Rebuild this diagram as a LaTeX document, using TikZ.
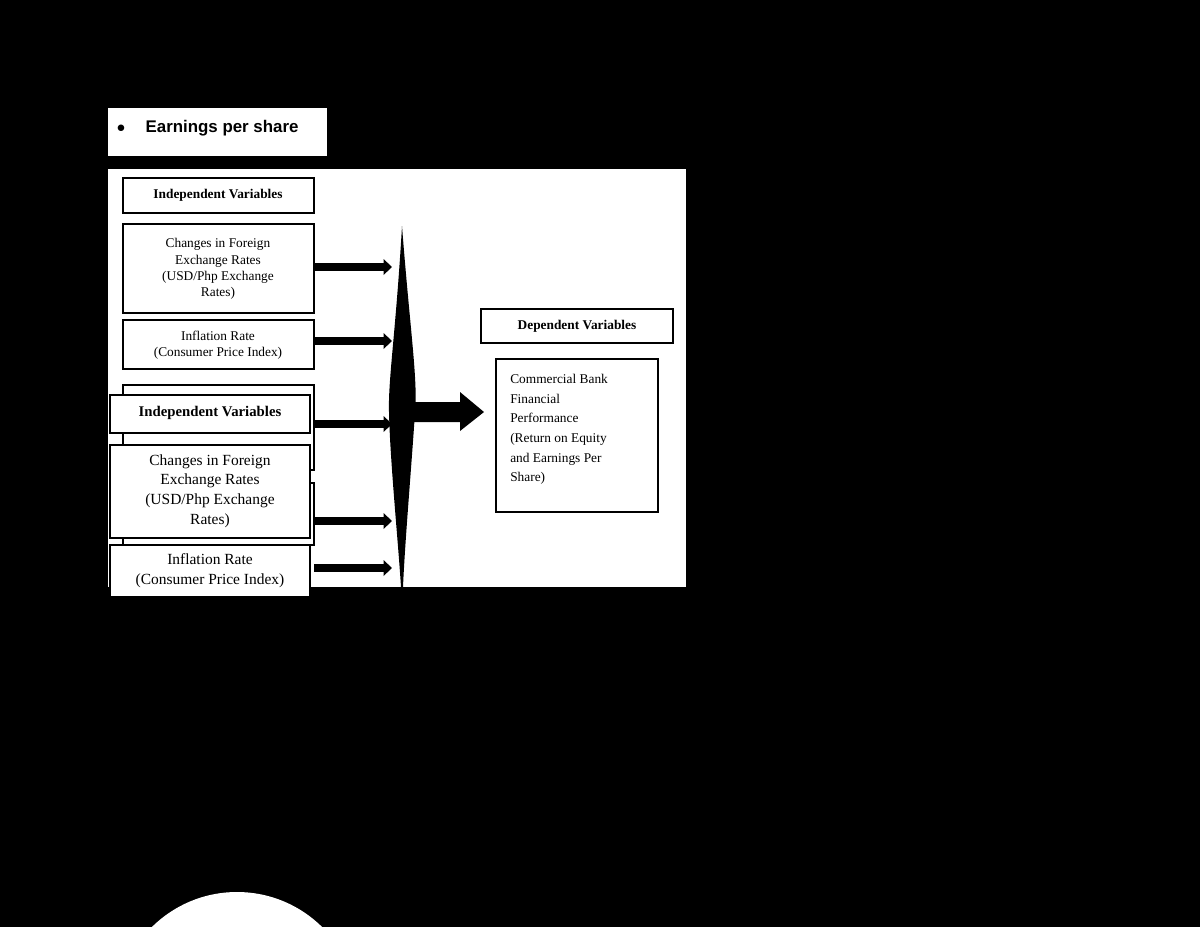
\documentclass[tikz,border=0pt]{standalone}
\usepackage{fontspec}
\usetikzlibrary{arrows.meta}
\setmainfont{Liberation Serif}
\newfontfamily\arialf{Liberation Sans}
\begin{document}
\begin{tikzpicture}[x=0.025cm,y=-0.025cm,
  bx/.style={draw=black,line width=1pt,fill=white,inner sep=0pt},
  ov/.style={draw=black,line width=1.6pt,fill=white,inner sep=0pt},
  arr/.style={line width=5pt,-{Triangle[length=6pt,width=11pt]}},
  txt/.style={font=\fontsize{9.5}{11.5}\selectfont,align=center},
  otxt/.style={font=\fontsize{11}{14}\selectfont,align=center}]
\fill[black] (0,0) rectangle (1200,927);
\useasboundingbox (0,0) rectangle (1200,927);
\fill[white] (108,108) rectangle (327,156);
\node[anchor=west,font=\arialf\bfseries\fontsize{12}{14}\selectfont] (eps) at (112,128) {$\bullet$\hspace{1.2em}Earnings per share};
\fill[white] (108,169) rectangle (686,587);
% base boxes
\draw[bx] (123,178) rectangle (314,213);
\node[txt,font=\bfseries\fontsize{9.5}{11}\selectfont] (iv1) at (218,195) {Independent Variables};
\draw[bx] (123,224) rectangle (314,313);
\node[txt] (fx1) at (218,269) {Changes in Foreign\\Exchange Rates\\(USD/Php Exchange\\Rates)};
\draw[bx] (123,320) rectangle (314,369);
\node[txt] (inf1) at (218,345) {Inflation Rate\\(Consumer Price Index)};
\draw[bx] (123,385) rectangle (314,470);
\draw[bx] (123,483) rectangle (314,545);
% arrows
\coordinate (a1) at (392,267); \coordinate (s1) at (314,267);
\coordinate (a2) at (392,341); \coordinate (s2) at (314,341);
\coordinate (a3) at (392,424); \coordinate (s3) at (314,424);
\coordinate (a4) at (392,521); \coordinate (s4) at (314,521);
\coordinate (a5) at (392,568); \coordinate (s5) at (314,568);
\foreach \i in {1,...,5} \draw[arr] (s\i) -- (a\i);
% spindle
\fill[black] (402,226) .. controls (410,330) and (418,380) .. (415,412)
  .. controls (412,460) and (405,540) .. (403,587)
  -- (401,587) .. controls (398,540) and (390,460) .. (389,412)
  .. controls (388,380) and (396,330) .. (402,226) -- cycle;
\fill[black] (410,402) -- (460,402) -- (460,392) -- (484,412) -- (460,431) -- (460,422) -- (410,422) -- cycle;
% dependent
\draw[bx] (481,309) rectangle (673,343);
\node[font=\bfseries\fontsize{9.5}{11}\selectfont] (dv) at (577,326) {Dependent Variables};
\draw[bx] (496,359) rectangle (658,512);
\node[anchor=north west,align=left,font=\fontsize{9.5}{14}\selectfont,inner sep=0pt] (cb) at (510,374) {Commercial Bank\\Financial\\Performance\\(Return on Equity\\and Earnings Per\\Share)};
% overlay
\draw[ov] (110,395) rectangle (310,433);
\node[font=\bfseries\fontsize{10.5}{12}\selectfont] (iv2) at (210,413) {Independent Variables};
\draw[ov] (110,445) rectangle (310,538);
\node[otxt] (fx2) at (210,491) {Changes in Foreign\\Exchange Rates\\(USD/Php Exchange\\Rates)};
\draw[ov] (110,545) rectangle (310,597);
\node[otxt] (inf2) at (210,571) {Inflation Rate\\(Consumer Price Index)};
\fill[white] (237,1013) circle (121);
\end{tikzpicture}
\end{document}
